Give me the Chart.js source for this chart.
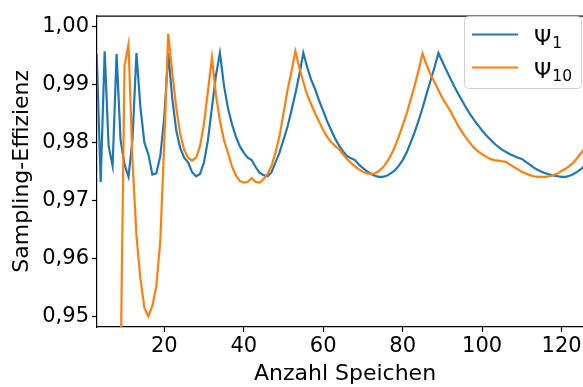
<!DOCTYPE html>
<html>
<head>
<meta charset="utf-8">
<script src="https://cdn.jsdelivr.net/npm/chart.js@4"></script>
<style>
  html, body { margin: 0; padding: 0; background: #fff; overflow: hidden; }
  #wrap { width: 583px; height: 387px; overflow: hidden; }
  canvas { display: block; }
</style>
</head>
<body>
<div id="wrap"><canvas id="c" width="593" height="387"></canvas></div>
<script>
// ---- data ----
const spokes = [3,4,5,6,7,8,9,10,11,12,13,14,15,16,17,18,19,20,21,22,23,24,25,26,27,28,29,30,31,32,33,34,35,36,37,38,39,40,41,42,43,44,45,46,47,48,49,50,51,52,53,54,55,56,57,58,59,60,61,62,63,64,65,66,67,68,69,70,71,72,73,74,75,76,77,78,79,80,81,82,83,84,85,86,87,88,89,90,91,92,93,94,95,96,97,98,99,100,101,102,103,104,105,106,107,108,109,110,111,112,113,114,115,116,117,118,119,120,121,122,123,124,125,126];

const psi1 = [0.9953,0.9732,0.9958,0.9794,0.9760,0.9953,0.9805,0.9762,0.9741,0.9805,0.9955,0.9861,0.9800,0.9780,0.9745,0.9747,0.9777,0.9844,0.9955,0.9877,0.9822,0.9791,0.9774,0.9766,0.9749,0.9742,0.9746,0.9766,0.9805,0.9861,0.9916,0.9955,0.9900,0.9861,0.9833,0.9811,0.9794,0.9783,0.9774,0.9770,0.9758,0.9748,0.9744,0.9742,0.9749,0.9766,0.9783,0.9805,0.9827,0.9855,0.9885,0.9918,0.9955,0.9930,0.9908,0.9892,0.9872,0.9855,0.9837,0.9822,0.9807,0.9795,0.9785,0.9777,0.9773,0.9770,0.9762,0.9756,0.9751,0.9746,0.9743,0.9741,0.9741,0.9743,0.9747,0.9752,0.9760,0.9770,0.9783,0.9800,0.9818,0.9838,0.9860,0.9884,0.9907,0.9930,0.9955,0.9940,0.9925,0.9911,0.9897,0.9884,0.9872,0.9860,0.9849,0.9839,0.9830,0.9821,0.9813,0.9806,0.9799,0.9793,0.9788,0.9784,0.9780,0.9777,0.9774,0.9772,0.9767,0.9762,0.9757,0.9753,0.9750,0.9747,0.9745,0.9743,0.9742,0.9741,0.9741,0.9743,0.9746,0.9750,0.9755,0.9762];

const psi10 = [null,null,null,null,null,null,0.9400,0.9933,0.9970,0.9770,0.9640,0.9565,0.9515,0.9500,0.9518,0.9552,0.9630,0.9800,0.9988,0.9922,0.9861,0.9816,0.9788,0.9774,0.9769,0.9774,0.9794,0.9833,0.9889,0.9947,0.9883,0.9838,0.9805,0.9783,0.9760,0.9744,0.9734,0.9731,0.9732,0.9739,0.9732,0.9731,0.9737,0.9746,0.9760,0.9783,0.9811,0.9850,0.9890,0.9922,0.9958,0.9930,0.9905,0.9882,0.9866,0.9850,0.9836,0.9822,0.9810,0.9801,0.9794,0.9789,0.9780,0.9772,0.9765,0.9759,0.9754,0.9750,0.9747,0.9746,0.9747,0.9751,0.9757,0.9766,0.9778,0.9792,0.9810,0.9830,0.9850,0.9874,0.9898,0.9925,0.9954,0.9935,0.9918,0.9905,0.9891,0.9877,0.9866,0.9855,0.9842,0.9829,0.9818,0.9808,0.9799,0.9791,0.9785,0.9780,0.9776,0.9772,0.9770,0.9769,0.9768,0.9767,0.9762,0.9758,0.9754,0.9750,0.9747,0.9744,0.9742,0.9741,0.9741,0.9741,0.9742,0.9744,0.9747,0.9751,0.9755,0.9760,0.9766,0.9774,0.9783,0.9792];

const seriesBase = ['Ψ', 'Ψ'];
const seriesSub = ['1', '10'];
const seriesLabels = ['Ψ₁', 'Ψ₁₀'];
const xTicks = [20, 40, 60, 80, 100, 120];
const yTicks = [0.95, 0.96, 0.97, 0.98, 0.99, 1.00];
const yTickLabels = ['0,95', '0,96', '0,97', '0,98', '0,99', '1,00'];
const xTitle = 'Anzahl Speichen';
const yTitle = 'Sampling-Effizienz';

// ---- chart ----
const colors = ['#1f77b4', '#ff7f0e'];
Chart.defaults.font.family = "'DejaVu Sans', sans-serif";
Chart.defaults.color = '#000';

const toPts = arr => spokes.map((x, i) => ({x: x, y: arr[i]}));

const frameAndLegend = {
  id: 'frameAndLegend',
  afterDatasetsDraw(chart) {
    const {ctx, chartArea: a} = chart;
    ctx.save();
    // top spine
    ctx.strokeStyle = '#000';
    ctx.lineWidth = 1.2;
    ctx.beginPath();
    ctx.moveTo(a.left, a.top + 0.5);
    ctx.lineTo(a.right, a.top + 0.5);
    ctx.stroke();
    // legend
    const bx = 464.5, by = 16.5, bw = 117, bh = 72, r = 4;
    ctx.beginPath();
    ctx.moveTo(bx + r, by);
    ctx.lineTo(bx + bw - r, by);
    ctx.arcTo(bx + bw, by, bx + bw, by + r, r);
    ctx.lineTo(bx + bw, by + bh - r);
    ctx.arcTo(bx + bw, by + bh, bx + bw - r, by + bh, r);
    ctx.lineTo(bx + r, by + bh);
    ctx.arcTo(bx, by + bh, bx, by + bh - r, r);
    ctx.lineTo(bx, by + r);
    ctx.arcTo(bx, by, bx + r, by, r);
    ctx.closePath();
    ctx.fillStyle = 'rgba(255,255,255,0.8)';
    ctx.fill();
    ctx.strokeStyle = '#d0d0d0';
    ctx.lineWidth = 1;
    ctx.stroke();
    const rows = [34.5, 67.5];
    chart.data.datasets.forEach((ds, i) => {
      const y = rows[i];
      ctx.strokeStyle = ds.borderColor;
      ctx.lineWidth = 2.2;
      ctx.beginPath();
      ctx.moveTo(472, y);
      ctx.lineTo(518, y);
      ctx.stroke();
      ctx.fillStyle = '#000';
      ctx.textBaseline = 'alphabetic';
      ctx.textAlign = 'left';
      ctx.font = "22px 'DejaVu Sans'";
      ctx.fillText(seriesBase[i], 534, y + 10);
      const w = ctx.measureText(seriesBase[i]).width;
      ctx.font = "15.5px 'DejaVu Sans'";
      ctx.fillText(seriesSub[i], 534 + w + 1, y + 13.5);
    });
    ctx.restore();
  }
};

new Chart(document.getElementById('c'), {
  type: 'line',
  data: {
    datasets: [
      {label: seriesLabels[0], data: toPts(psi1), borderColor: colors[0], backgroundColor: colors[0], borderWidth: 2.2, pointRadius: 0, tension: 0, order: 2, clip: 0},
      {label: seriesLabels[1], data: toPts(psi10), borderColor: colors[1], backgroundColor: colors[1], borderWidth: 2.2, pointRadius: 0, tension: 0, order: 1, clip: 0}
    ]
  },
  options: {
    responsive: false,
    animation: false,
    devicePixelRatio: 1,
    layout: {padding: {top: 5, right: 0, left: 0, bottom: 0}},
    plugins: {legend: {display: false}, tooltip: {enabled: false}},
    scales: {
      x: {
        type: 'linear',
        min: 3.07,
        max: 127.9,
        afterFit(s) { s.height = 60; },
        afterBuildTicks(s) { s.ticks = xTicks.map(v => ({value: v})); },
        ticks: {font: {size: 21}, padding: 2, maxRotation: 0, autoSkip: false, callback: v => String(v)},
        grid: {display: true, drawOnChartArea: false, drawTicks: true, tickLength: 5, tickColor: '#000', tickWidth: 1.2},
        border: {display: true, color: '#000', width: 1.2},
        title: {display: true, text: xTitle, font: {size: 22}, padding: {top: 0, bottom: 0}}
      },
      y: {
        type: 'linear',
        min: 0.94816,
        max: 1.00196,
        afterFit(s) { s.width = 97; },
        afterBuildTicks(s) { s.ticks = yTicks.map(v => ({value: v})); },
        ticks: {font: {size: 21}, padding: 3, autoSkip: false, callback: v => { const i = yTicks.findIndex(t => Math.abs(t - v) < 1e-6); return i >= 0 ? yTickLabels[i] : ''; }},
        grid: {display: true, drawOnChartArea: false, drawTicks: true, tickLength: 5, tickColor: '#000', tickWidth: 1.2},
        border: {display: true, color: '#000', width: 1.2},
        title: {display: true, text: yTitle, font: {size: 22}, padding: {top: 9, bottom: 0}}
      }
    }
  },
  plugins: [frameAndLegend]
});
</script>
</body>
</html>
